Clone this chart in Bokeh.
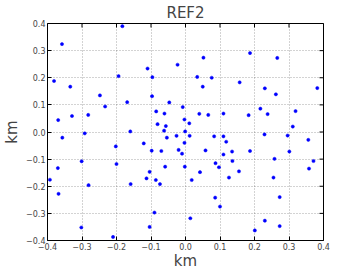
import math
from bokeh.plotting import figure
from bokeh.models import ColumnDataSource, FixedTicker, Range1d
from bokeh.embed import file_html
from bokeh.resources import INLINE

x_km = [-0.358, -0.183, -0.381, -0.334, -0.194, -0.110, -0.096, -0.023, -0.248, -0.233,
        -0.169, -0.097, -0.047, -0.369, -0.329, -0.282, -0.085, -0.061, -0.081, -0.057,
        -0.062, -0.160, -0.292, -0.357, -0.026, -0.054, 0.052, 0.187, 0.266, 0.034,
        0.076, 0.050, 0.157, 0.230, 0.262, 0.382, -0.008, 0.040, 0.066, 0.110,
        0.183, 0.217, 0.238, 0.319, -0.003, 0.011, 0.311, -0.001, 0.012, 0.083,
        0.110, 0.229, 0.296, -0.121, -0.202, -0.098, -0.070, -0.020, -0.010, -0.301,
        -0.200, -0.059, -0.370, -0.104, -0.393, -0.113, -0.086, -0.159, -0.074, -0.281,
        -0.368, -0.090, -0.302, -0.104, -0.210, -0.003, 0.118, 0.356, 0.058, 0.110,
        0.135, 0.187, 0.301, 0.258, 0.371, 0.087, 0.136, -0.002, 0.097, 0.358,
        0.042, 0.155, 0.018, 0.126, 0.255, 0.086, 0.273, 0.100, 0.014, 0.230,
        0.273, 0.201]
y_km = [0.324, 0.390, 0.188, 0.167, 0.206, 0.234, 0.202, 0.248, 0.135, 0.094,
        0.110, 0.132, 0.109, 0.044, 0.059, 0.063, 0.076, 0.068, 0.029, 0.022,
        0.005, 0.002, -0.005, -0.021, -0.014, -0.021, 0.274, 0.291, 0.273, 0.203,
        0.200, 0.167, 0.183, 0.161, 0.139, 0.162, 0.092, 0.067, 0.063, 0.068,
        0.062, 0.086, 0.066, 0.077, 0.046, 0.032, 0.020, 0.002, -0.014, -0.016,
        -0.016, -0.009, -0.013, -0.042, -0.053, -0.069, -0.070, -0.066, -0.080, -0.108,
        -0.118, -0.128, -0.133, -0.147, -0.176, -0.171, -0.177, -0.192, -0.192, -0.196,
        -0.228, -0.297, -0.352, -0.350, -0.387, -0.040, -0.036, -0.029, -0.068, -0.083,
        -0.072, -0.070, -0.072, -0.099, -0.107, -0.115, -0.107, -0.128, -0.130, -0.135,
        -0.148, -0.145, -0.177, -0.168, -0.168, -0.242, -0.240, -0.275, -0.318, -0.327,
        -0.347, -0.363]

tick_values = [-0.4, -0.3, -0.2, -0.1, 0.0, 0.1, 0.2, 0.3, 0.4]
tick_labels = ["\u22120.4", "\u22120.3", "\u22120.2", "\u22120.1", "0.0", "0.1", "0.2", "0.3", "0.4"]
title_text = "REF2"
x_label = "km"
y_label = "km"

FONT = "DejaVu Sans"
LO, HI = tick_values[0], tick_values[-1]

p = figure(width=343, height=272, output_backend="svg", toolbar_location=None,
           x_range=Range1d(LO, HI), y_range=Range1d(LO, HI),
           min_border_left=10, min_border_right=20, min_border_top=7, min_border_bottom=0)
p.background_fill_color = "white"
p.border_fill_color = "white"
p.outline_line_color = "black"
p.outline_line_width = 1

p.title.text = title_text
p.title.align = "center"
p.title.text_font = FONT
p.title.text_font_size = "15px"
p.title.text_font_style = "normal"
p.title.standoff = 3

overrides = {v: t for v, t in zip(tick_values, tick_labels)}
ticker = FixedTicker(ticks=tick_values)

for ax in (p.xaxis[0], p.yaxis[0]):
    ax.ticker = ticker
    ax.major_label_overrides = overrides
    ax.major_label_text_font = FONT
    ax.major_label_text_font_size = "8px"
    ax.major_label_standoff = 2
    ax.axis_line_color = None
    ax.major_tick_in = 4
    ax.major_tick_out = 0
    ax.major_tick_line_color = "black"
    ax.minor_tick_line_color = None
    ax.axis_label_text_font = FONT
    ax.axis_label_text_font_size = "15px"
    ax.axis_label_text_font_style = "normal"

p.xaxis[0].axis_label_standoff = -1
p.yaxis[0].axis_label_standoff = 2
p.xaxis[0].axis_label = x_label
p.yaxis[0].axis_label = y_label

for g in (p.xgrid[0], p.ygrid[0]):
    g.ticker = ticker
    g.grid_line_color = "black"
    g.grid_line_alpha = 0.35
    g.grid_line_dash = "1 2"
    g.grid_line_width = 1

# tick marks on the top and right frame edges (matplotlib style)
p.scatter(x=tick_values, y=[HI] * len(tick_values), marker="dash", size=8,
          angle=math.pi / 2, line_color="black", line_width=1)
p.scatter(x=[HI] * len(tick_values), y=tick_values, marker="dash", size=8,
          angle=0, line_color="black", line_width=1)

src = ColumnDataSource(data=dict(x=x_km, y=y_km))
p.scatter("x", "y", source=src, size=3.2, marker="circle", fill_color="#0000ff",
          line_color="#0000ff", line_width=0.5)

open("out.html", "w").write(file_html(p, INLINE))
